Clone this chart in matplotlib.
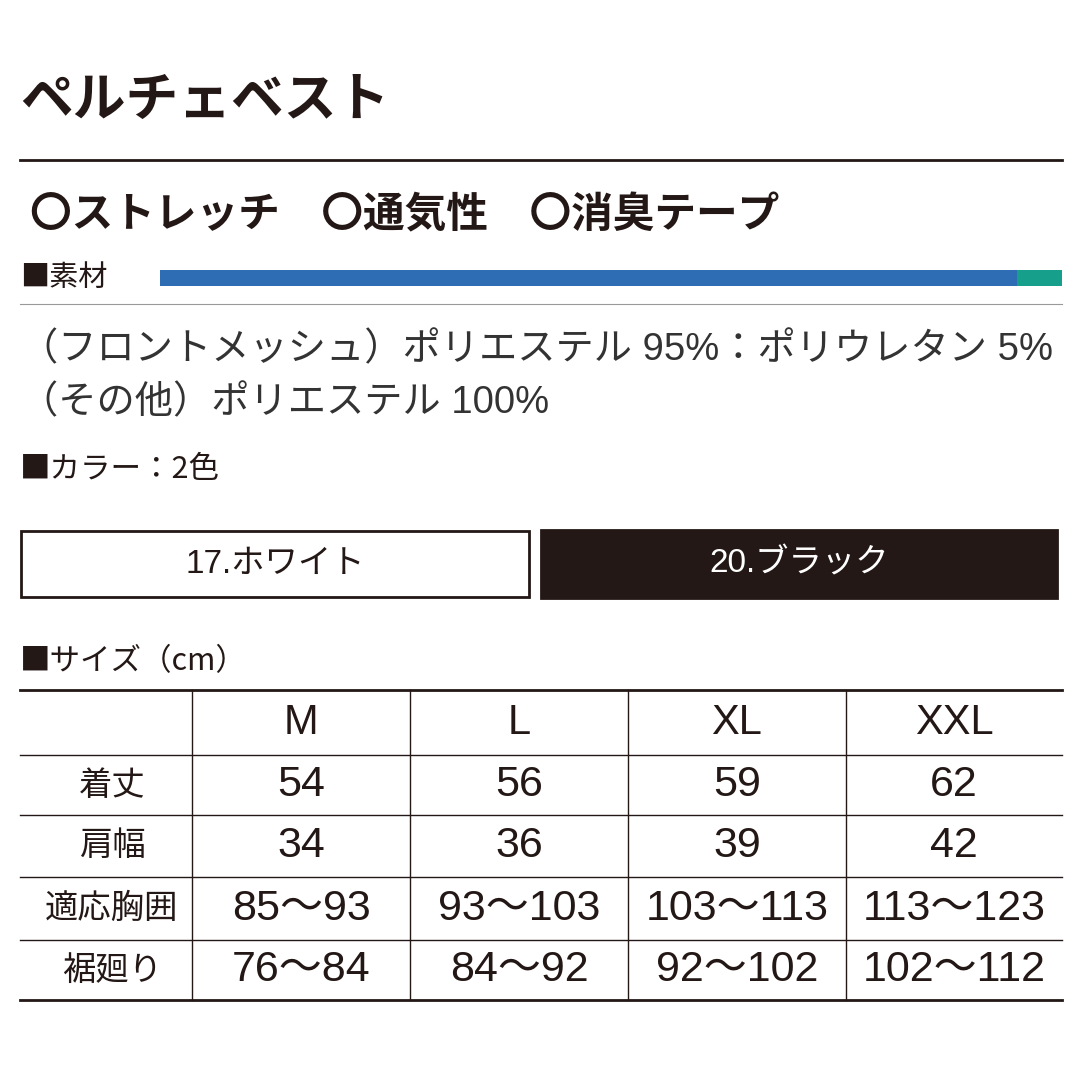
import matplotlib
matplotlib.use("Agg")
import matplotlib.pyplot as plt
from matplotlib.patches import Rectangle

plt.rcParams['font.family'] = ['Liberation Sans', 'Noto Sans CJK JP', 'DejaVu Sans']
JP = ['Noto Sans CJK JP', 'DejaVu Sans']

TITLE = "ペルチェベスト"
FEATURES = "〇ストレッチ　〇通気性　〇消臭テープ"
MATERIAL_SHARE = [95, 5]
MATERIAL_COLORS = ["#2e6db4", "#16a08c"]
MATERIAL_LINES = ["（フロントメッシュ）ポリエステル 95%：ポリウレタン 5%",
                  "（その他）ポリエステル 100%"]
COLORS = ["17.ホワイト", "20.ブラック"]
SIZES = ["M", "L", "XL", "XXL"]
ROW_LABELS = ["着丈", "肩幅", "適応胸囲", "裾廻り"]
TABLE = [
    ["54", "56", "59", "62"],
    ["34", "36", "39", "42"],
    ["85〜93", "93〜103", "103〜113", "113〜123"],
    ["76〜84", "84〜92", "92〜102", "102〜112"],
]

fig = plt.figure(figsize=(10.8, 10.74), dpi=100)
ax = fig.add_axes([0, 0, 1, 1])
ax.set_xlim(0, 1080)
ax.set_ylim(1074, 0)
ax.axis("off")
dark = "#231815"

ax.text(20, 100, TITLE, fontsize=38, fontweight="bold", color=dark, va="center", family=JP)
ax.plot([20, 1062], [160, 160], color=dark, lw=2)
ax.text(30, 215, FEATURES, fontsize=30, fontweight="bold", color=dark, va="center", family=JP)

ax.text(20, 278, "■素材", fontsize=21, color=dark, va="center", family=JP)
x0, x1 = 160, 1062
left = x0
total = sum(MATERIAL_SHARE)
for share, c in zip(MATERIAL_SHARE, MATERIAL_COLORS):
    w = (x1 - x0) * share / total
    ax.add_patch(Rectangle((left, 270), w, 16, color=c, lw=0))
    left += w
ax.plot([20, 1062], [304, 304], color="#999999", lw=0.8)

for i, line in enumerate(MATERIAL_LINES):
    ax.text(20, 350 + 53 * i, line, fontsize=27.5, color="#333333", va="center")

ax.text(20, 470, "■カラー：2色", fontsize=22, color=dark, va="center", family=JP)
ax.add_patch(Rectangle((21, 531), 508, 66, facecolor="white", edgecolor=dark, lw=2))
ax.add_patch(Rectangle((541, 530), 516, 68, facecolor=dark, edgecolor=dark, lw=2))
ax.text(275, 564, COLORS[0], fontsize=24, color=dark, ha="center", va="center")
ax.text(799, 564, COLORS[1], fontsize=24, color="white", ha="center", va="center")

ax.text(20, 662, "■サイズ（cm）", fontsize=22, color=dark, va="center", family=JP)
cols = [20, 192, 410, 628, 846, 1062]
rows = [690, 755, 815, 877, 940, 1000]
for y in rows:
    ax.plot([20, 1062], [y, y], color=dark, lw=2 if y in (690, 1000) else 1)
for x in cols[1:-1]:
    ax.plot([x, x], [rows[0], rows[-1]], color=dark, lw=1)
for j, s in enumerate(SIZES):
    ax.text((cols[j + 1] + cols[j + 2]) / 2, (rows[0] + rows[1]) / 2, s,
            fontsize=30, color=dark, ha="center", va="center")
for i, lab in enumerate(ROW_LABELS):
    yc = (rows[i + 1] + rows[i + 2]) / 2
    ax.text((cols[0] + cols[1]) / 2 + 6, yc, lab, fontsize=24, color=dark,
            ha="center", va="center", family=JP)
    for j, v in enumerate(TABLE[i]):
        ax.text((cols[j + 1] + cols[j + 2]) / 2, yc, v, fontsize=31, color=dark,
                ha="center", va="center")

fig.savefig("out.png", dpi=100, facecolor="white")
